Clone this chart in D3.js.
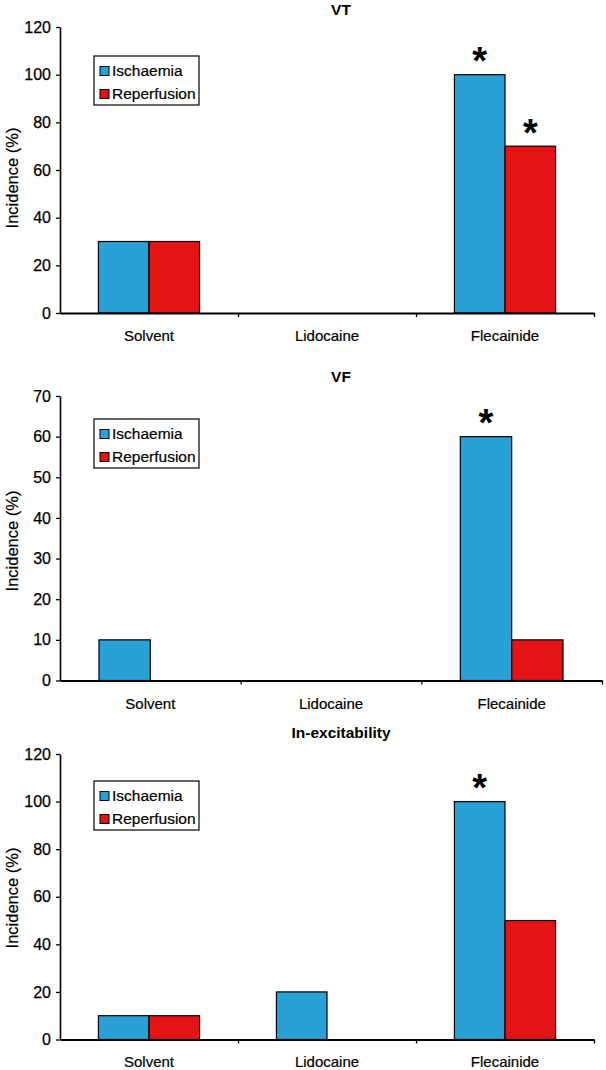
<!DOCTYPE html>
<html><head><meta charset="utf-8">
<script src="https://cdn.jsdelivr.net/npm/d3@7"></script>
<style>
body{margin:0;background:#fff;}
svg{display:block;font-family:"Liberation Sans",Arial,sans-serif;}
</style></head>
<body><svg id="c" width="606" height="1070"></svg>
<script>
const categories = ["Solvent", "Lidocaine", "Flecainide"];
const seriesNames = ["Ischaemia", "Reperfusion"];
const panelTitles = ["VT", "VF", "In-excitability"];
const vtIschaemia = [30, 0, 100];
const vtReperfusion = [30, 0, 70];
const vfIschaemia = [10, 0, 60];
const vfReperfusion = [0, 0, 10];
const inexIschaemia = [10, 20, 100];
const inexReperfusion = [10, 0, 50];
const yMaxes = [120, 70, 120];
const yTickSteps = [20, 10, 20];
// significance markers: [category index, series index]
const vtSignificant = [[2, 0], [2, 1]];
const vfSignificant = [[2, 0]];
const inexSignificant = [[2, 0]];
const yLabel = "Incidence (%)";

const colors = ["#29A1D7", "#E41316"];

const panels = [
  {title: panelTitles[0], data: [vtIschaemia, vtReperfusion], sig: vtSignificant, yMax: yMaxes[0], step: yTickSteps[0],
   top: 27, bottom: 313, left: 60, right: 594, titleY: 10, catY: 336, legendY: 56, ylabY: 178},
  {title: panelTitles[1], data: [vfIschaemia, vfReperfusion], sig: vfSignificant, yMax: yMaxes[1], step: yTickSteps[1],
   top: 396, bottom: 680.5, left: 60, right: 602, titleY: 377, catY: 704, legendY: 419, ylabY: 541},
  {title: panelTitles[2], data: [inexIschaemia, inexReperfusion], sig: inexSignificant, yMax: yMaxes[2], step: yTickSteps[2],
   top: 754, bottom: 1039.5, left: 60, right: 594, titleY: 733, catY: 1062, legendY: 781, ylabY: 898}
];

const svg = d3.select("#c");

panels.forEach(p => {
  const g = svg.append("g");
  const y = d3.scaleLinear().domain([0, p.yMax]).range([p.bottom, p.top]);
  const x = d3.scaleBand().domain(categories).range([p.left, p.right]).paddingInner(0).paddingOuter(0);
  const xs = d3.scaleBand().domain(seriesNames).range([0, x.bandwidth()]).paddingInner(0).paddingOuter(0.76);
  const xIdx = d3.scaleLinear().domain([0, categories.length]).range([p.left, p.right]);

  // bars
  seriesNames.forEach((s, si) => {
    g.selectAll(null).data(p.data[si].map((v, ci) => ({v, c: categories[ci]})).filter(d => d.v > 0))
      .enter().append("rect")
      .attr("x", d => x(d.c) + xs(s))
      .attr("width", xs.bandwidth())
      .attr("y", d => y(d.v))
      .attr("height", d => y(0) - y(d.v))
      .attr("fill", colors[si])
      .attr("stroke", "#000").attr("stroke-width", 1.2);
  });

  // y axis
  const ya = g.append("g").attr("transform", `translate(${p.left},0)`)
    .call(d3.axisLeft(y).tickValues(d3.range(0, p.yMax + 0.001, p.step)).tickSize(4).tickPadding(5).tickSizeOuter(0));
  ya.select(".domain").attr("stroke-width", 1.6);
  ya.selectAll(".tick line").attr("stroke-width", 1.3);
  ya.selectAll("text").attr("font-size", 16).attr("fill", "#000").attr("font-family", "Liberation Sans, Arial, sans-serif")
    .attr("stroke", "#000").attr("stroke-width", 0.25);

  // x axis line with boundary ticks
  const xa = g.append("g").attr("transform", `translate(0,${p.bottom})`)
    .call(d3.axisBottom(xIdx).tickValues(d3.range(1, categories.length + 1)).tickFormat("").tickSize(4).tickSizeOuter(0));
  xa.select(".domain").attr("stroke-width", 1.8);
  xa.selectAll(".tick line").attr("stroke-width", 1.3);

  // category labels
  g.selectAll(null).data(categories).enter().append("text")
    .attr("x", d => x(d) + x.bandwidth() / 2)
    .attr("y", p.catY).attr("dy", "0.35em")
    .attr("text-anchor", "middle").attr("font-size", 15).attr("stroke", "#000").attr("stroke-width", 0.2).text(d => d);

  // title
  g.append("text").attr("x", 341).attr("y", p.titleY).attr("dy", "0.35em")
    .attr("text-anchor", "middle").attr("font-size", 15.5).attr("font-weight", "bold").text(p.title);

  // y label
  g.append("text").attr("transform", `translate(12,${p.ylabY}) rotate(-90)`).attr("dy", "0.35em")
    .attr("text-anchor", "middle").attr("font-size", 16.5).attr("stroke", "#000").attr("stroke-width", 0.2).text(yLabel);

  // legend
  const lg = g.append("g").attr("transform", `translate(94,${p.legendY})`);
  lg.append("rect").attr("x", 0).attr("y", 0).attr("width", 105).attr("height", 49)
    .attr("fill", "#fff").attr("stroke", "#000").attr("stroke-width", 1.2);
  seriesNames.forEach((s, si) => {
    const cy = 15 + si * 23;
    lg.append("rect").attr("x", 6).attr("y", cy - 4.5).attr("width", 9).attr("height", 9)
      .attr("fill", colors[si]).attr("stroke", "#000").attr("stroke-width", 1);
    lg.append("text").attr("x", 18).attr("y", cy).attr("dy", "0.35em").attr("font-size", 15.5)
      .attr("stroke", "#000").attr("stroke-width", 0.2).text(s);
  });

  // significance asterisks
  g.selectAll(null).data(p.sig).enter().append("text")
    .attr("x", d => x(categories[d[0]]) + xs(seriesNames[d[1]]) + xs.bandwidth() / 2)
    .attr("y", d => y(p.data[d[1]][d[0]]) - 24)
    .attr("dy", "0.62em")
    .attr("text-anchor", "middle").attr("font-size", 38).attr("font-weight", "bold").text("*");
});
</script></body></html>
